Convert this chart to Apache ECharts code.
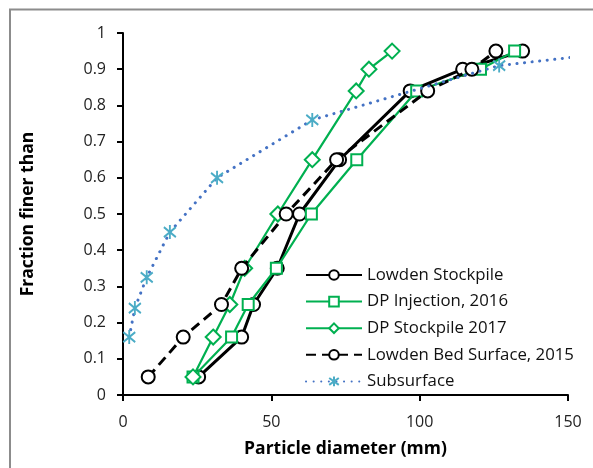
<!DOCTYPE html>
<html>
<head>
<meta charset="utf-8">
<script src="https://cdn.jsdelivr.net/npm/echarts@6/dist/echarts.min.js"></script>
<style>html,body{margin:0;padding:0;background:#fff;}#c{width:593px;height:468px;}</style>
</head>
<body>
<div id="c"></div>
<script>
// ---- data ----
const seriesNames = ['Lowden Stockpile', 'DP Injection, 2016', 'DP Stockpile 2017', 'Lowden Bed Surface, 2015', 'Subsurface'];
const fracLevels = [0.05, 0.16, 0.25, 0.35, 0.5, 0.65, 0.84, 0.9, 0.95];
const lowdenStockpileX = [25.5, 40, 44, 52, 59.5, 73, 96.8, 114.5, 134.7];
const dpInjectionX = [23.6, 36.6, 42.2, 51.7, 63.5, 78.8, 99, 120.5, 132];
const dpStockpileX = [23.6, 30.4, 36, 41, 52.2, 63.8, 78.6, 82.9, 90.7];
const lowdenBedX = [8.5, 20.3, 33.2, 40, 55, 72, 102.7, 117.6, 125.7];
const subsurfaceX = [2.1, 4.0, 8.0, 15.8, 31.7, 63.8, 126.8, 170];
const subsurfaceY = [0.16, 0.24, 0.325, 0.45, 0.6, 0.76, 0.91, 0.95];
const xTicks = [0, 50, 100, 150];
const yTicks = [0, 0.1, 0.2, 0.3, 0.4, 0.5, 0.6, 0.7, 0.8, 0.9, 1];

const pairs = (xs, ys) => xs.map((x, i) => [x, ys[i]]);
const FONT = '"Open Sans", "Noto Sans", sans-serif';
const GREEN = '#00B050';
const starPath = 'path://M1,2L11,12M11,2L1,12M6,0L6,14';

const chart = echarts.init(document.getElementById('c'), null, {renderer: 'canvas'});
chart.setOption({
  animation: false,
  backgroundColor: '#fff',
  graphic: [{
    type: 'rect', silent: true, z: -1,
    shape: {x: 10, y: 9.5, width: 800, height: 800},
    style: {fill: 'none', stroke: '#8c8c8c', lineWidth: 2}
  }],
  grid: {left: 123, right: 25, top: 33, bottom: 73, containLabel: false},
  xAxis: {
    type: 'value', min: xTicks[0], max: xTicks[xTicks.length - 1], interval: 50,
    name: 'Particle diameter (mm)', nameLocation: 'middle', nameGap: 45,
    nameTextStyle: {fontFamily: FONT, fontSize: 17.5, fontWeight: 'bold', color: '#000'},
    axisLine: {lineStyle: {color: '#000', width: 2}},
    axisTick: {show: true, inside: false, length: 6, lineStyle: {color: '#000', width: 2}},
    axisLabel: {fontFamily: FONT, fontSize: 16, color: '#222', margin: 19},
    splitLine: {show: false}
  },
  yAxis: {
    type: 'value', min: yTicks[0], max: yTicks[yTicks.length - 1], interval: 0.1,
    name: 'Fraction finer than', nameLocation: 'middle', nameGap: 86,
    nameTextStyle: {fontFamily: FONT, fontSize: 17.5, fontWeight: 'bold', color: '#000'},
    axisLine: {show: true, lineStyle: {color: '#000', width: 2}},
    axisTick: {show: true, inside: false, length: 6, lineStyle: {color: '#000', width: 2}},
    axisLabel: {fontFamily: FONT, fontSize: 16, color: '#222', margin: 17},
    splitLine: {show: false}
  },
  legend: {
    orient: 'vertical', left: 305, top: 266.5, padding: 0,
    itemWidth: 56, itemHeight: 12, itemGap: 9.6,
    textStyle: {fontFamily: FONT, fontSize: 16.8, color: '#111'},
    data: seriesNames
  },
  series: [
    {
      name: seriesNames[0], type: 'line', data: pairs(lowdenStockpileX, fracLevels),
      symbol: 'circle', symbolSize: 13,
      lineStyle: {color: '#000', width: 3},
      itemStyle: {color: '#fff', borderColor: '#000', borderWidth: 2}, z: 2
    },
    {
      name: seriesNames[1], type: 'line', data: pairs(dpInjectionX, fracLevels),
      symbol: 'rect', symbolSize: 11,
      lineStyle: {color: GREEN, width: 2.2},
      itemStyle: {color: '#fff', borderColor: GREEN, borderWidth: 2}, z: 3
    },
    {
      name: seriesNames[2], type: 'line', data: pairs(dpStockpileX, fracLevels),
      symbol: 'diamond', symbolSize: 15,
      lineStyle: {color: GREEN, width: 2.2},
      itemStyle: {color: '#fff', borderColor: GREEN, borderWidth: 2}, z: 4
    },
    {
      name: seriesNames[3], type: 'line', data: pairs(lowdenBedX, fracLevels),
      symbol: 'circle', symbolSize: 13,
      lineStyle: {color: '#000', width: 3, type: [10, 6]},
      itemStyle: {color: '#fff', borderColor: '#000', borderWidth: 2}, z: 5
    },
    {
      name: seriesNames[4], type: 'line', data: pairs(subsurfaceX, subsurfaceY),
      symbol: starPath, symbolSize: [12, 14], clip: true,
      lineStyle: {color: '#4472C4', width: 3, type: [0.1, 7.5], cap: 'round'},
      itemStyle: {color: 'rgba(0,0,0,0)', borderColor: '#4BACC6', borderWidth: 2}, z: 6
    }
  ]
});
</script>
</body>
</html>
